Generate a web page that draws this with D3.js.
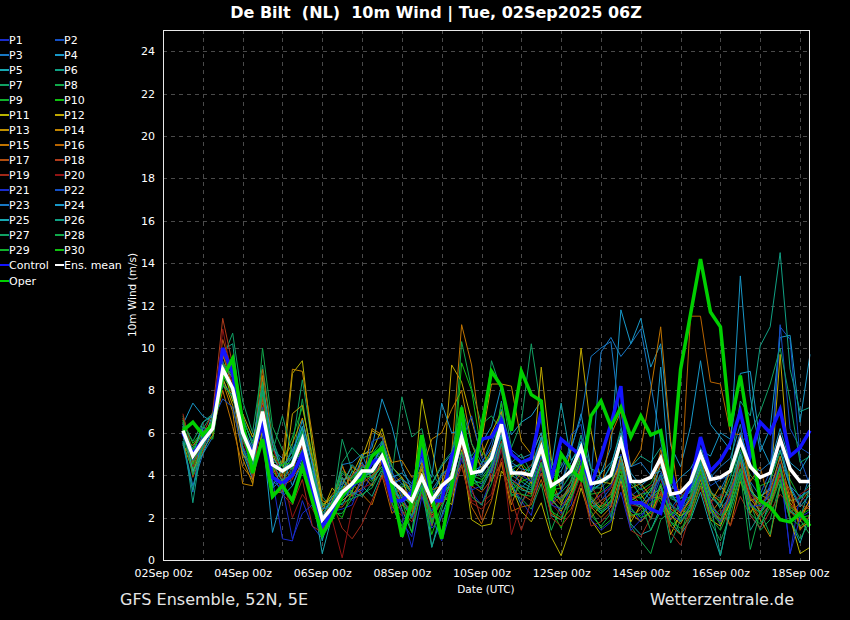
<!DOCTYPE html>
<html><head><meta charset="utf-8">
<script src="https://cdn.jsdelivr.net/npm/d3@7"></script>
<style>
html,body{margin:0;padding:0;background:#000;}
svg{display:block;}
text{font-family:"DejaVu Sans",sans-serif;}
</style></head><body>
<svg id="chart" width="850" height="620"></svg>
<script>
// ---------------- DATA ----------------
const runStart = "2025-09-02T12:00:00Z";   // first valid time
const stepHours = 6;
const xTickLabelsEvery = 2; // days

const ensMean = [6.1,4.9,5.6,6.2,9.0,8.1,6.0,4.9,7.0,4.5,4.2,4.5,5.7,3.7,1.9,2.5,
 3.2,3.6,4.2,4.2,4.9,3.7,3.3,2.8,3.9,2.8,3.5,3.9,5.8,4.1,4.2,4.8,
 6.4,4.1,4.1,4.0,5.3,3.5,3.8,4.2,5.3,3.6,3.7,4.0,5.6,3.7,3.7,3.9,
 4.8,3.1,3.2,3.7,5.0,3.8,3.9,4.2,5.6,4.4,3.9,4.1,5.7,4.3,3.7,3.7];
const control = [6.0,5.0,5.6,6.3,10.0,8.8,6.0,5.0,6.4,3.9,3.6,4.0,5.0,3.3,1.6,2.2,
 3.0,3.5,3.9,4.6,4.8,2.8,2.8,3.2,5.3,2.8,2.8,4.9,5.9,4.4,5.7,5.8,
 6.6,5.0,4.6,4.8,7.0,3.8,5.7,5.3,4.9,3.5,4.9,6.4,8.2,2.7,2.7,2.4,
 2.2,4.2,2.5,3.6,5.8,4.2,4.7,5.5,7.0,4.9,6.5,6.0,7.1,4.9,5.3,6.1];
const oper = [6.1,6.5,5.9,6.4,8.6,9.5,6.5,4.1,5.7,3.0,3.5,2.8,4.4,2.8,1.2,2.0,
 3.0,3.6,3.8,4.9,5.3,3.5,1.1,2.8,5.9,3.0,1.0,3.5,7.2,3.5,6.2,8.9,
 8.2,6.1,8.9,7.8,7.5,2.8,5.0,4.3,3.8,6.8,7.5,6.3,7.2,5.8,6.8,5.9,
 6.1,3.6,9.0,11.6,14.2,11.7,11.0,6.3,8.7,5.8,2.8,2.5,1.9,1.8,2.2,1.6];

const P1 = [5.9,4.6,5.3,6.1,8.9,8.4,5.4,4.4,6.6,3.8,1.0,0.9,2.8,1.6,1.0,2.0,
 3.5,2.8,3.2,4.0,4.6,2.4,1.8,1.1,3.6,2.0,0.9,2.4,4.8,3.2,2.6,3.9,
 5.2,3.6,2.8,2.1,4.4,3.0,2.2,2.6,4.6,2.7,3.1,3.5,5.0,2.5,1.8,2.4,
 3.6,1.9,2.7,3.4,4.5,2.9,1.6,3.0,5.1,3.3,2.2,3.6,4.4,0.3,3.1,2.5];
const P2 = [6.3,5.2,6.0,6.4,9.4,8.0,6.2,5.3,7.4,4.8,4.5,4.8,6.0,4.0,2.2,2.8,
 2.9,3.4,4.5,4.3,5.5,4.1,3.6,3.0,4.4,3.1,3.9,4.6,6.6,4.8,4.5,5.6,
 6.9,4.5,3.4,3.9,5.6,2.6,3.3,4.1,5.9,2.4,2.8,3.4,4.9,3.0,3.4,2.8,
 4.1,2.4,3.1,2.9,4.6,3.5,3.8,4.0,6.0,4.6,3.1,4.2,11.0,10.4,4.8,3.5];
const P3 = [5.6,3.5,5.0,5.8,8.5,7.6,6.6,5.6,8.0,5.2,4.8,3.5,4.6,3.4,1.5,2.3,
 3.8,3.9,4.6,3.8,5.1,3.4,2.7,2.0,3.2,1.9,3.0,3.7,5.4,3.5,4.6,5.3,
 7.1,5.2,4.8,5.0,6.7,4.0,3.6,4.4,5.1,3.8,9.8,10.5,9.6,10.2,10.9,8.3,
 5.6,3.3,2.2,3.5,4.7,3.9,4.4,4.8,6.4,3.7,3.0,3.4,4.8,3.5,2.6,4.0];
const P4 = [6.4,7.4,6.8,6.5,8.2,7.8,5.1,3.8,6.0,1.3,3.0,3.5,4.8,4.2,2.4,2.7,
 2.6,3.5,4.9,5.3,7.6,6.3,4.4,3.3,5.0,3.6,4.4,5.0,6.9,4.7,5.5,6.3,
 8.2,5.9,6.5,6.8,7.5,3.9,4.2,5.2,6.9,4.3,4.1,5.3,11.8,10.2,11.4,9.1,
 10.2,5.4,4.4,6.3,9.4,6.4,5.8,5.2,13.4,7.7,5.1,6.2,10.5,10.6,6.5,9.7];
const P5 = [6.5,4.1,5.5,6.9,9.6,8.8,5.3,3.9,8.6,3.4,3.8,4.0,5.2,3.2,0.3,2.1,
 3.1,4.2,3.9,4.6,5.3,3.8,2.4,1.3,4.6,0.6,2.1,3.3,5.1,3.8,3.6,4.2,
 5.9,3.6,2.6,3.8,4.4,2.1,1.9,3.2,4.3,2.8,2.2,2.6,4.9,1.7,1.2,1.4,
 2.5,1.8,1.2,1.9,3.2,1.6,0.2,2.4,4.0,2.1,1.5,2.8,3.8,1.9,0.8,2.2];
const P6 = [6.0,2.7,5.8,6.5,9.9,10.2,6.4,5.2,7.8,5.7,4.4,5.1,6.3,4.1,2.0,2.6,
 4.1,3.7,3.5,3.0,4.1,3.2,3.6,3.4,4.3,2.9,4.1,4.3,5.9,4.4,3.9,4.5,
 7.5,4.0,3.7,3.4,5.2,3.4,3.6,4.3,5.5,3.2,3.6,3.9,5.8,4.4,4.9,4.6,
 5.3,3.0,2.6,3.3,4.6,3.2,2.9,4.4,7.5,6.8,10.1,11.0,14.5,9.0,7.0,7.2];
const P7 = [5.7,5.3,6.2,6.9,9.5,10.7,7.5,6.0,9.2,5.8,4.0,5.4,8.5,5.5,3.0,2.4,
 5.7,4.2,3.6,4.5,5.3,4.0,7.7,5.8,6.2,4.1,3.4,3.1,6.2,4.9,5.6,9.4,
 8.0,5.3,6.5,10.2,7.1,4.6,3.8,4.0,5.9,4.3,3.7,4.4,6.2,3.9,2.9,1.9,
 3.2,0.8,1.9,3.1,4.3,3.3,2.4,3.0,5.2,3.6,2.1,2.6,4.1,2.8,2.9,3.6];
const P8 = [6.8,5.1,6.3,6.0,8.9,8.2,5.8,4.6,10.0,6.3,5.2,4.6,7.6,4.4,1.7,2.2,
 2.2,2.9,3.7,4.3,5.0,3.5,3.1,2.5,3.5,1.6,3.2,3.5,10.3,8.1,6.4,6.8,
 6.1,3.1,2.9,2.4,3.6,1.4,2.6,3.8,5.3,2.1,1.6,2.2,3.7,1.6,0.9,0.3,
 1.9,2.3,1.2,2.7,4.4,1.8,0.9,2.1,3.8,2.7,1.4,1.9,3.6,2.4,1.9,1.2];
const P9 = [6.2,4.3,5.4,6.3,9.3,8.6,6.0,5.0,6.9,4.6,4.6,5.8,7.2,5.0,2.6,3.0,
 3.0,3.3,4.1,3.7,4.6,3.0,3.5,3.3,4.5,2.6,3.7,4.3,6.4,4.0,3.8,4.3,
 6.7,4.1,3.9,3.5,5.6,3.3,3.4,4.0,5.0,3.1,3.2,3.6,5.4,3.8,3.3,3.6,
 4.5,3.0,2.9,3.5,4.8,3.1,2.8,3.9,5.4,4.0,3.5,3.7,5.1,3.8,2.9,3.3];
const P10 = [6.6,5.5,6.1,5.7,8.7,7.9,6.3,4.7,7.3,4.2,3.6,4.2,5.9,3.8,1.4,2.5,
 3.4,3.9,4.3,3.9,5.0,2.7,1.3,2.1,3.7,1.8,2.9,4.0,6.0,3.6,3.7,4.5,
 6.2,3.3,3.7,3.9,5.0,2.4,1.5,2.9,4.2,3.0,2.5,3.0,4.8,3.1,2.9,3.4,
 2.7,1.6,2.0,2.7,4.1,2.3,1.7,3.3,4.7,3.3,2.5,3.1,4.5,2.6,2.0,2.1];
const P11 = [5.4,4.8,5.9,6.6,9.1,7.5,6.9,5.8,7.1,5.0,3.9,8.8,9.4,5.4,2.6,2.9,
 3.3,4.0,5.0,5.1,6.2,4.4,3.9,2.4,7.6,5.3,3.1,2.6,5.2,1.9,1.6,1.7,
 4.2,3.5,2.3,1.8,2.7,1.1,0.2,1.6,3.4,1.9,1.2,1.4,3.8,1.8,2.6,2.0,
 3.5,1.2,2.2,2.9,4.3,2.5,1.8,2.7,5.0,2.2,3.1,2.8,4.4,2.0,0.3,0.6];
const P12 = [6.0,5.0,5.7,6.2,8.6,7.3,5.0,4.4,6.5,3.2,3.2,6.9,7.3,4.8,2.3,3.4,
 2.8,3.2,4.8,6.1,5.8,3.9,3.2,2.6,4.3,2.9,3.3,9.2,8.4,6.6,4.9,6.0,
 7.0,3.9,4.5,3.6,9.1,4.8,3.3,5.2,10.0,6.1,3.7,3.6,4.6,2.8,3.1,2.4,
 4.8,2.4,2.1,2.3,3.8,1.9,1.6,2.7,4.3,2.8,3.0,3.3,9.7,3.5,1.5,1.8];
const P13 = [5.5,4.2,5.2,5.9,9.7,8.1,4.8,3.6,6.2,4.3,4.7,5.5,6.7,4.6,2.5,3.1,
 3.6,4.4,4.0,3.5,4.8,3.6,3.9,3.2,4.1,2.5,3.4,3.8,5.5,4.3,5.6,8.3,
 8.3,8.2,5.6,5.0,6.0,3.8,2.7,3.5,4.8,2.9,2.4,2.8,4.9,3.4,3.6,3.0,
 2.9,2.1,1.7,2.6,4.0,2.7,3.5,2.9,4.6,2.9,2.3,2.9,4.5,2.7,2.1,2.8];
const P14 = [6.1,4.6,5.6,6.3,8.4,7.0,3.6,3.5,8.7,4.1,4.6,9.0,8.9,5.9,2.8,2.6,
 4.5,3.1,3.4,6.2,5.9,4.6,4.7,3.9,4.2,5.7,6.0,7.1,8.0,5.5,4.3,5.2,
 6.0,3.8,3.4,3.1,4.6,2.9,2.3,3.2,4.2,2.5,2.0,2.5,4.0,2.2,1.8,2.3,
 3.1,1.9,2.4,2.1,3.5,2.2,2.8,1.6,3.7,2.6,1.9,1.1,3.5,2.3,1.8,2.9];
const P15 = [5.8,5.4,6.0,6.1,8.0,6.3,4.4,3.8,7.6,4.4,3.4,4.1,5.8,3.3,1.2,2.4,
 3.9,3.0,3.8,4.6,4.9,4.0,2.9,2.1,4.6,3.3,3.5,5.0,11.1,9.2,5.6,3.7,
 4.6,2.6,3.9,4.1,5.7,3.1,2.6,3.0,4.5,2.6,3.3,5.9,7.0,4.4,5.2,8.0,
 11.0,5.6,2.5,3.9,4.8,3.2,2.7,4.3,6.0,3.4,2.6,3.2,4.9,2.9,2.1,2.6];
const P16 = [6.3,4.4,5.5,6.4,9.3,7.8,5.7,4.9,9.0,5.5,3.6,3.9,4.5,2.7,1.9,2.8,
 4.4,3.6,3.1,2.6,4.0,2.2,2.6,2.3,3.0,2.1,2.7,3.6,4.5,2.5,1.7,2.8,
 4.6,2.3,2.5,2.6,3.8,2.2,1.9,2.4,3.6,2.0,2.6,3.2,4.3,2.0,2.4,3.0,
 5.2,3.4,3.3,11.5,11.5,8.4,8.3,6.0,5.9,3.7,4.4,2.5,4.1,3.3,1.4,2.1];
const P17 = [6.7,3.9,5.1,6.8,10.4,8.9,6.2,5.1,7.7,4.5,3.7,4.4,5.4,3.5,2.1,2.5,
 2.5,3.1,3.6,4.0,4.4,3.3,2.7,2.4,3.8,2.2,2.8,3.0,5.0,3.5,3.2,3.8,
 5.5,3.2,3.1,2.8,4.1,2.6,3.0,3.3,4.4,2.5,2.8,3.1,4.7,3.2,2.6,2.9,
 3.3,1.6,1.2,2.3,3.9,2.4,1.8,3.3,4.6,2.7,2.0,2.6,4.0,2.2,2.7,3.3];
const P18 = [6.2,4.8,5.9,7.0,11.4,9.2,5.9,4.7,6.6,3.9,3.5,3.8,5.3,3.6,1.8,2.2,
 3.2,4.0,4.5,3.9,4.6,3.0,3.4,3.0,4.0,1.6,3.6,4.1,5.4,3.4,1.9,4.2,
 5.6,3.5,4.1,4.5,5.0,3.4,2.8,3.7,5.0,3.5,2.7,2.5,4.5,2.9,3.1,3.5,
 3.8,2.6,2.2,2.8,4.2,2.8,1.9,3.1,4.9,3.0,2.4,2.9,4.1,3.1,2.6,2.4];
const P19 = [6.9,5.0,5.4,6.6,9.8,8.3,5.4,3.9,6.9,4.7,3.1,2.6,3.8,1.6,1.3,2.7,
 1.5,1.0,1.7,2.8,3.9,3.1,2.3,1.8,3.1,2.0,2.7,3.1,4.4,2.7,2.4,2.9,
 4.8,2.9,1.4,2.8,4.4,2.0,1.6,2.2,3.7,1.6,1.8,2.3,3.6,1.4,1.1,2.0,
 3.2,1.3,0.7,2.2,3.4,1.9,2.4,1.6,3.0,2.1,1.5,2.3,3.1,2.6,2.0,1.7];
const P20 = [6.5,4.4,5.9,6.0,10.9,8.5,5.6,4.5,7.3,5.3,4.0,2.0,3.1,2.4,1.6,1.9,
 0.1,2.4,3.4,3.6,4.2,2.5,2.1,2.6,3.2,2.4,3.0,3.4,5.0,2.8,2.7,3.1,
 5.3,1.2,2.7,3.3,4.8,2.7,2.1,2.8,4.0,2.4,3.1,3.4,4.4,2.6,2.5,2.9,
 4.6,2.2,3.0,3.5,4.4,2.7,3.1,2.9,4.5,3.1,2.7,3.1,4.6,2.4,3.1,3.4];
const P21 = [5.9,5.1,5.8,6.2,8.3,7.7,5.9,5.2,6.8,3.7,3.4,1.0,2.2,2.6,1.2,2.3,
 2.4,2.6,3.9,4.6,5.2,3.4,2.2,0.6,3.0,1.5,2.0,3.1,5.0,3.3,3.5,4.4,
 6.0,4.2,4.0,3.7,5.4,2.6,2.4,3.4,4.6,1.9,1.4,1.8,3.2,1.4,1.9,3.0,
 4.0,2.2,1.8,2.6,3.9,2.3,1.8,2.9,4.2,2.5,2.6,3.0,4.5,0.3,2.0,2.3];
const P22 = [6.4,4.7,5.3,6.6,7.6,7.2,5.2,4.3,7.2,4.0,3.1,4.4,5.2,3.1,1.6,2.6,
 3.7,3.1,3.3,5.6,5.8,4.2,3.0,2.0,3.4,2.3,3.3,3.7,5.6,6.8,4.8,4.1,
 5.5,3.8,3.5,3.3,4.9,2.8,3.2,5.9,6.4,3.6,3.9,2.0,3.9,2.3,2.1,2.6,
 3.9,2.6,2.3,3.0,4.0,2.5,2.1,3.2,4.3,2.7,2.2,3.4,11.1,6.2,5.3,5.0];
const P23 = [5.5,3.2,6.2,6.1,8.9,8.0,6.3,4.8,7.0,4.8,4.2,5.2,6.2,4.6,2.4,2.5,
 4.5,4.6,5.0,3.8,4.4,3.6,3.8,3.5,4.8,3.3,4.0,4.5,6.0,4.2,4.4,4.9,
 6.4,4.6,4.3,4.2,5.8,3.9,4.4,5.3,6.7,9.6,10.0,10.3,6.3,4.4,4.6,4.0,
 4.2,3.1,2.6,3.8,5.3,4.1,3.3,4.3,6.0,4.5,4.2,4.6,5.5,3.5,3.0,3.3];
const P24 = [6.1,4.9,6.5,6.8,8.6,9.3,6.8,5.4,8.3,5.5,4.1,4.9,6.6,4.5,2.0,3.0,
 3.3,3.5,4.4,4.2,5.6,3.9,4.1,3.6,4.7,3.9,7.4,6.0,6.1,4.5,4.0,4.8,
 6.6,4.4,4.5,4.9,6.0,3.6,3.8,4.6,5.6,3.3,3.6,4.5,6.0,4.1,3.5,3.9,
 9.1,3.3,3.9,4.3,5.2,4.9,6.0,5.7,8.8,8.9,5.5,4.5,6.2,4.6,4.2,5.0];
const P25 = [6.3,4.2,5.0,6.2,8.7,9.6,6.1,4.5,6.8,3.5,4.3,4.6,6.3,3.0,0.9,2.8,
 3.5,4.5,4.0,4.1,4.9,3.7,2.7,3.1,4.0,2.7,3.2,4.5,6.5,4.2,4.1,5.1,
 5.9,4.3,4.0,4.4,5.8,4.3,7.4,4.7,5.3,3.2,4.1,4.6,4.9,2.7,2.6,3.3,
 4.4,3.6,2.9,3.2,4.5,3.0,2.5,3.6,5.0,3.3,2.8,3.9,5.2,3.4,2.5,3.1];
const P26 = [5.6,3.3,5.4,6.7,9.2,8.6,5.3,4.2,8.2,4.6,3.7,4.7,6.0,3.9,1.5,2.3,
 3.9,3.2,3.0,3.6,4.2,3.4,2.9,2.7,3.5,0.6,2.4,3.9,5.9,4.0,3.3,4.3,
 5.8,3.7,3.3,3.2,4.6,3.1,2.9,3.5,4.8,2.9,2.3,2.7,4.6,2.7,2.5,3.0,
 3.4,2.3,2.0,2.5,4.4,2.7,0.2,2.6,4.9,1.4,2.2,2.9,4.5,2.3,2.0,3.4];
const P27 = [6.4,5.6,6.5,6.9,8.7,8.0,6.5,4.9,7.9,5.1,6.8,5.0,4.8,4.1,2.6,2.6,
 4.6,5.3,4.8,5.0,5.6,4.4,3.8,3.1,5.3,3.6,4.5,5.1,7.3,5.5,4.6,4.8,
 6.8,4.6,5.0,4.1,5.2,3.0,3.2,3.7,5.0,3.4,3.4,3.9,5.5,3.6,3.1,3.2,
 4.0,2.9,2.7,3.4,4.7,3.0,2.6,3.4,5.5,6.0,7.0,8.3,10.0,7.5,4.6,4.9];
const P28 = [6.0,4.0,5.3,6.4,9.3,8.7,5.7,4.6,8.4,4.3,4.5,4.9,6.1,3.7,1.7,2.2,
 2.7,2.9,3.1,3.4,4.3,3.1,2.7,2.1,3.3,2.2,2.9,3.2,5.1,3.0,2.6,3.6,
 5.5,3.0,3.5,3.3,4.5,2.8,2.4,2.9,4.2,2.6,2.4,3.0,4.4,2.9,2.7,1.4,
 2.3,2.7,1.8,2.4,3.9,2.6,2.1,2.4,4.1,0.5,2.3,1.2,3.6,1.9,1.0,1.8];
const P29 = [6.6,4.5,5.8,6.4,9.0,7.9,6.7,5.5,7.1,5.0,4.4,4.3,5.7,3.8,2.2,2.7,
 4.2,3.8,4.4,4.1,5.3,2.7,1.6,2.4,3.9,1.7,3.1,4.2,6.3,3.7,3.4,4.6,
 6.5,3.7,3.1,3.0,4.6,2.3,2.0,3.0,4.1,2.3,1.5,1.9,4.0,2.1,2.2,2.7,
 3.0,1.8,1.5,2.0,3.6,2.0,1.4,2.5,4.0,2.2,1.7,2.5,3.8,2.0,1.6,1.9];
const P30 = [6.3,5.2,6.0,6.0,8.3,7.7,6.0,4.8,6.5,4.2,4.5,4.6,5.2,3.4,1.9,2.4,
 2.0,3.3,4.0,3.9,4.4,2.9,2.8,1.3,3.4,1.2,2.6,3.3,9.3,8.0,5.1,4.6,
 7.4,4.2,4.6,4.0,5.2,3.2,2.8,3.3,4.8,2.6,2.2,2.8,4.2,2.4,2.0,2.2,
 3.6,2.1,2.6,3.0,4.2,2.4,1.9,2.8,4.3,2.6,2.2,2.8,4.3,2.5,2.1,2.4];

const memberNames = ["P1","P2","P3","P4","P5","P6","P7","P8","P9","P10",
 "P11","P12","P13","P14","P15","P16","P17","P18","P19","P20",
 "P21","P22","P23","P24","P25","P26","P27","P28","P29","P30"];
const memberValues = [P1,P2,P3,P4,P5,P6,P7,P8,P9,P10,P11,P12,P13,P14,P15,P16,P17,P18,P19,P20,
 P21,P22,P23,P24,P25,P26,P27,P28,P29,P30];
const yTicks = [0,2,4,6,8,10,12,14,16,18,20,22,24];

// ---------------- STYLE ----------------
const memberColors = ["#1a2ccc","#1450c4","#1878c4","#1898c8","#18a8b0","#10a084","#10a064","#10a84a","#10b02c","#10c010",
 "#b8b400","#c0a800","#c09000","#c08400","#c07400","#b86400","#b04e10","#b03c1c","#a02818","#901414",
 "#1a2ccc","#1450c4","#1878c4","#1898c8","#18a8b0","#10a084","#10a064","#10a84a","#10b02c","#10c010"];

const W = 850, H = 620;
const M = {left:163, right:810, top:30, bottom:560};
const svg = d3.select("#chart");
svg.append("rect").attr("width",W).attr("height",H).attr("fill","#000");

const t0 = new Date(runStart);
const times = ensMean.map((_, i) => new Date(t0.getTime() + i*stepHours*3600e3));

const x = d3.scaleUtc()
  .domain([new Date("2025-09-02T00:00:00Z"), new Date("2025-09-18T06:00:00Z")])
  .range([M.left, M.right]);
const y = d3.scaleLinear().domain([0,25]).range([M.bottom, M.top]);

// grid
const grid = svg.append("g");
grid.selectAll("line.gy").data(yTicks.filter(d=>d>0)).join("line")
  .attr("x1",M.left).attr("x2",M.right)
  .attr("y1",d=>Math.round(y(d))+0.5).attr("y2",d=>Math.round(y(d))+0.5)
  .attr("stroke","#4a4a4a").attr("stroke-dasharray","4,4");
const days = d3.utcDay.range(new Date("2025-09-03T00:00:00Z"), new Date("2025-09-18T01:00:00Z"));
grid.selectAll("line.gx").data(days).join("line")
  .attr("y1",M.top).attr("y2",M.bottom)
  .attr("x1",d=>Math.round(x(d))+0.5).attr("x2",d=>Math.round(x(d))+0.5)
  .attr("stroke","#4a4a4a").attr("stroke-dasharray","4,4");

// lines
const line = d3.line().x((d,i)=>x(times[i])).y(d=>y(d));
const plot = svg.append("g");
memberValues.forEach((vals, k) => {
  plot.append("path").datum(vals).attr("d", line)
    .attr("fill","none").attr("stroke", memberColors[k]).attr("stroke-width",1)
    .attr("stroke-linejoin","miter");
});
plot.append("path").datum(control).attr("d",line).attr("fill","none")
  .attr("stroke","#1414ff").attr("stroke-width",3.5);
plot.append("path").datum(oper).attr("d",line).attr("fill","none")
  .attr("stroke","#00d000").attr("stroke-width",3.5);
plot.append("path").datum(ensMean).attr("d",line).attr("fill","none")
  .attr("stroke","#ffffff").attr("stroke-width",3.5);

// frame
svg.append("rect").attr("x",M.left+0.5).attr("y",M.top+0.5)
  .attr("width",M.right-M.left-1).attr("height",M.bottom-M.top)
  .attr("fill","none").attr("stroke","#e8e8e8").attr("stroke-width",1);

// axes
const xLabelTicks = d3.utcDay.range(new Date("2025-09-02T00:00:00Z"), new Date("2025-09-18T01:00:00Z"), xTickLabelsEvery);
const fmt = d3.utcFormat("%d%b %Hz");
const xAxis = svg.append("g").attr("transform",`translate(0,${M.bottom})`)
  .call(d3.axisBottom(x).tickValues(xLabelTicks).tickFormat(fmt).tickSize(0).tickPadding(9));
const yAxis = svg.append("g").attr("transform",`translate(${M.left},0)`)
  .call(d3.axisLeft(y).tickValues(yTicks).tickFormat(d3.format("d")).tickSize(0).tickPadding(8));
[xAxis,yAxis].forEach(a=>{
  a.select(".domain").remove();
  a.selectAll("text").attr("fill","#ffffff").style("font-size","11px").style("font-family","DejaVu Sans");
});

// axis titles
svg.append("text").attr("x",486).attr("y",593).attr("text-anchor","middle")
  .attr("fill","#fff").style("font-size","10.5px").text("Date (UTC)");
svg.append("text").attr("transform","translate(136,295) rotate(-90)").attr("text-anchor","middle")
  .attr("fill","#fff").style("font-size","10.5px").text("10m Wind (m/s)");

// title
svg.append("text").attr("x",436).attr("y",18).attr("text-anchor","middle")
  .attr("fill","#fff").style("font-size","16px").style("font-weight","bold")
  .style("white-space","pre").text("De Bilt  (NL)  10m Wind | Tue, 02Sep2025 06Z");

// footer
svg.append("text").attr("x",120).attr("y",605).attr("fill","#e6e6e6")
  .style("font-size","16px").text("GFS Ensemble, 52N, 5E");
svg.append("text").attr("x",794).attr("y",605).attr("text-anchor","end").attr("fill","#e6e6e6")
  .style("font-size","16px").text("Wetterzentrale.de");

// legend
const legendItems = memberNames.map((n,k)=>({name:n,color:memberColors[k]}))
  .concat([{name:"Control",color:"#1414ff"},{name:"Ens. mean",color:"#ffffff"},{name:"Oper",color:"#00d000"}]);
const lg = svg.append("g");
legendItems.forEach((it,k)=>{
  const col = k%2, row = Math.floor(k/2);
  const lx = col===0 ? 0 : 55;
  const ly = 40 + row*15 + (row===16 ? 1 : 0);
  lg.append("line").attr("x1",lx).attr("x2",lx+9).attr("y1",ly).attr("y2",ly)
    .attr("stroke",it.color).attr("stroke-width",2);
  lg.append("text").attr("x",lx+9).attr("y",ly+4).attr("fill","#fff")
    .style("font-size","11px").text(it.name);
});
</script>
</body></html>
